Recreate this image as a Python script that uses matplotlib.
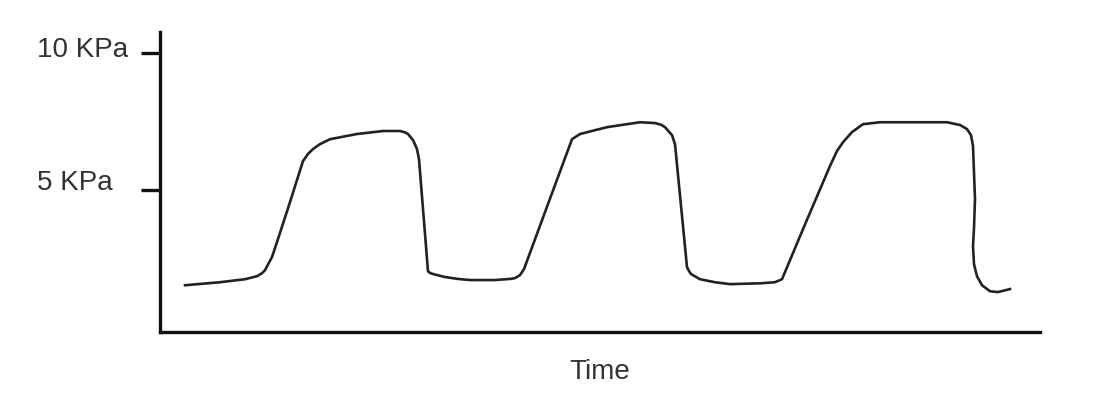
import matplotlib
matplotlib.use('Agg')
import matplotlib.pyplot as plt
import matplotlib.transforms as mtransforms

plt.rcParams['font.family'] = ['Liberation Sans', 'DejaVu Sans']

# time (arbitrary units) and pressure (KPa)
time = [2.5, 6.0, 8.5, 9.7, 10.2, 10.5, 11.2, 11.7, 13.0, 14.3, 14.8, 15.3, 16.0, 17.0,
        19.7, 22.3, 24.0, 24.5, 24.8, 25.3, 25.7, 25.9, 26.8, 27.0, 27.3, 28.5, 29.8,
        31.0, 33.5, 35.0, 35.5, 36.0, 36.4, 38.8, 41.2, 42.0, 44.7, 48.0, 49.5,
        50.1, 50.5, 51.2, 51.5, 52.7, 52.9, 53.1, 54.0, 55.5, 57.0, 60.0, 61.5,
        62.2, 64.6, 67.0, 67.7, 68.3, 69.2, 70.3, 72.0, 75.3, 78.7, 80.0, 80.7,
        81.1, 81.3, 81.5, 81.4, 81.3, 81.4, 81.7, 82.2, 83.0, 83.8, 85.0]
pressure = [1.51, 1.62, 1.73, 1.84, 1.95, 2.06, 2.54, 3.09, 4.55, 6.05, 6.31, 6.49, 6.67, 6.85,
            7.04, 7.15, 7.15, 7.10, 7.04, 6.82, 6.49, 6.12, 2.02, 1.96, 1.92, 1.81, 1.74,
            1.70, 1.70, 1.74, 1.77, 1.88, 2.10, 4.48, 6.85, 7.04, 7.29, 7.47, 7.44,
            7.38, 7.29, 7.00, 6.67, 2.17, 2.03, 1.92, 1.73, 1.62, 1.55, 1.58, 1.62,
            1.73, 3.82, 5.87, 6.42, 6.74, 7.11, 7.40, 7.47, 7.47, 7.47, 7.37, 7.22,
            7.00, 6.60, 4.66, 3.60, 2.94, 2.28, 1.84, 1.51, 1.29, 1.26, 1.37]

tick_vals = [5, 10]
tick_labels = ['5 KPa', '10 KPa']
label_offsets = [0.3, 0.16]

fig = plt.figure(figsize=(10.94, 4.06), dpi=100)
ax = fig.add_axes([160 / 1094, 73 / 406, 880 / 1094, 300 / 406])

ax.plot(time, pressure, color='#222222', lw=1.9, solid_joinstyle='round')

ax.set_xlim(0, 88)
ax.set_ylim(-0.2, 10.77)

for s in ['top', 'right']:
    ax.spines[s].set_visible(False)
for s in ['left', 'bottom']:
    ax.spines[s].set_linewidth(2.4)
    ax.spines[s].set_color('#111111')

ax.set_xticks([])
ax.set_yticks(tick_vals)
ax.set_yticklabels([])
ax.tick_params(axis='y', direction='out', length=14, width=2.4, color='#111111')

trans = mtransforms.blended_transform_factory(fig.transFigure, ax.transData)
for v, lab, off in zip(tick_vals, tick_labels, label_offsets):
    ax.text(37 / 1094, v + off, lab, transform=trans, ha='left', va='center',
            fontsize=20, color='#333333')

ax.set_xlabel('Time', fontsize=20, color='#333333', labelpad=19)

fig.savefig('out.png', dpi=100)
